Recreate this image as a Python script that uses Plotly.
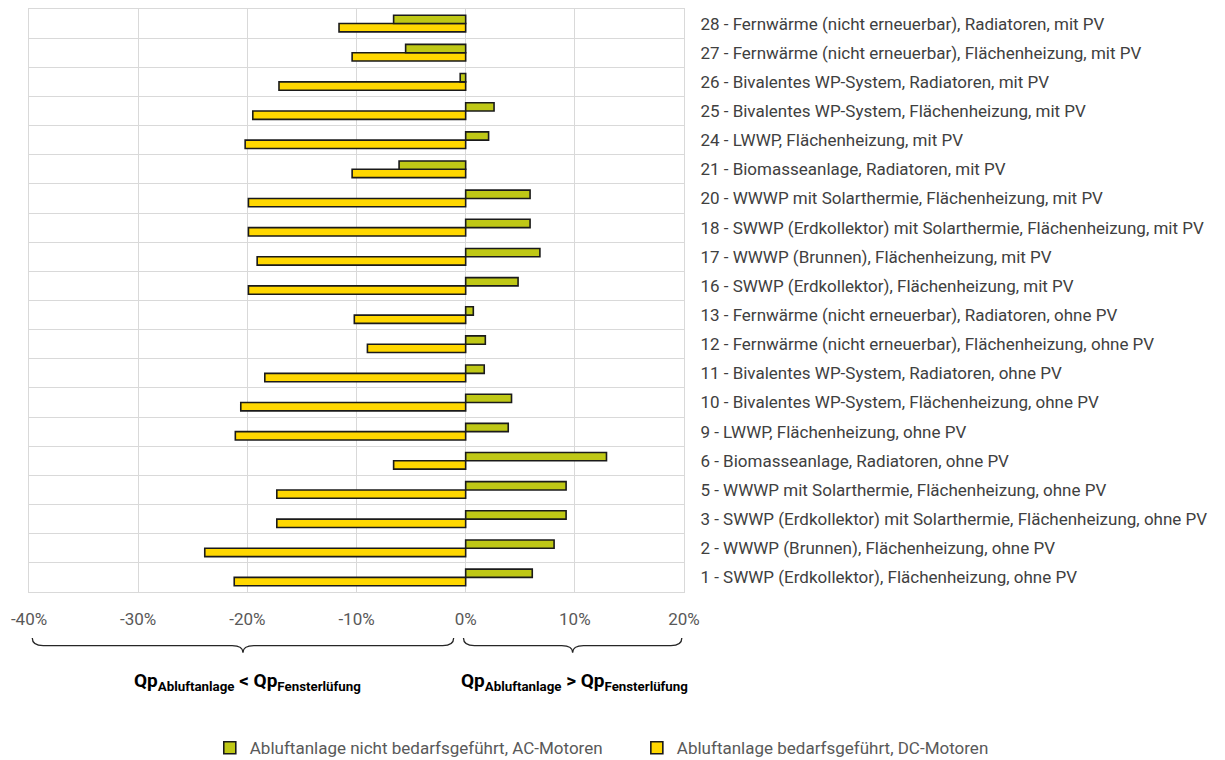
import plotly.graph_objects as go

# Categories (bottom to top)
categories = [
    "1 - SWWP (Erdkollektor), Flächenheizung, ohne PV",
    "2 - WWWP (Brunnen), Flächenheizung, ohne PV",
    "3 - SWWP (Erdkollektor) mit Solarthermie, Flächenheizung, ohne PV",
    "5 - WWWP mit Solarthermie, Flächenheizung, ohne PV",
    "6 - Biomasseanlage, Radiatoren, ohne PV",
    "9 - LWWP, Flächenheizung, ohne PV",
    "10 - Bivalentes WP-System, Flächenheizung, ohne PV",
    "11 - Bivalentes WP-System, Radiatoren, ohne PV",
    "12 - Fernwärme (nicht erneuerbar), Flächenheizung, ohne PV",
    "13 - Fernwärme (nicht erneuerbar), Radiatoren, ohne PV",
    "16 - SWWP (Erdkollektor), Flächenheizung, mit PV",
    "17 - WWWP (Brunnen), Flächenheizung, mit PV",
    "18 - SWWP (Erdkollektor) mit Solarthermie, Flächenheizung, mit PV",
    "20 - WWWP mit Solarthermie, Flächenheizung, mit PV",
    "21 - Biomasseanlage, Radiatoren, mit PV",
    "24 - LWWP, Flächenheizung, mit PV",
    "25 - Bivalentes WP-System, Flächenheizung, mit PV",
    "26 - Bivalentes WP-System, Radiatoren, mit PV",
    "27 - Fernwärme (nicht erneuerbar), Flächenheizung, mit PV",
    "28 - Fernwärme (nicht erneuerbar), Radiatoren, mit PV",
]

# Series values (fractions)
ac_nicht_bedarfsgefuehrt = [
    0.061, 0.081, 0.092, 0.092, 0.129, 0.039, 0.042, 0.017, 0.018, 0.007,
    0.048, 0.068, 0.059, 0.059, -0.061, 0.021, 0.026, -0.005, -0.055, -0.066,
]
dc_bedarfsgefuehrt = [
    -0.212, -0.239, -0.173, -0.173, -0.066, -0.211, -0.206, -0.184, -0.090, -0.102,
    -0.199, -0.191, -0.199, -0.199, -0.104, -0.202, -0.195, -0.171, -0.104, -0.116,
]

series_names = [
    "Abluftanlage nicht bedarfsgeführt, AC-Motoren",
    "Abluftanlage bedarfsgeführt, DC-Motoren",
]

x_ticks = [-0.4, -0.3, -0.2, -0.1, 0.0, 0.1, 0.2]
x_ticktext = ["-40%", "-30%", "-20%", "-10%", "0%", "10%", "20%"]

GREEN = "#BFC816"
YELLOW = "#FFD700"
OUTLINE = "#1A1A1A"
GRID = "#D9D9D9"
FONT = "Roboto"

fig = go.Figure()
fig.add_trace(go.Bar(
    y=categories, x=dc_bedarfsgefuehrt, orientation="h", name=series_names[1],
    marker=dict(color=YELLOW, line=dict(color=OUTLINE, width=1.6)),
    legend="legend2", showlegend=True,
))
fig.add_trace(go.Bar(
    y=categories, x=ac_nicht_bedarfsgefuehrt, orientation="h", name=series_names[0],
    marker=dict(color=GREEN, line=dict(color=OUTLINE, width=1.6)),
    legend="legend", showlegend=True,
))

# braces below axis (paper y, data x)
def brace(x0, x1, ytop, yline, ytip, r):
    xm = (x0 + x1) / 2
    return (f"M {x0},{ytop} Q {x0},{yline} {x0 + r},{yline} "
            f"L {xm - r},{yline} Q {xm},{yline} {xm},{ytip} "
            f"Q {xm},{yline} {xm + r},{yline} "
            f"L {x1 - r},{yline} Q {x1},{yline} {x1},{ytop}")

ytop, yline, ytip = -0.079, -0.092, -0.104
shapes = [
    dict(type="path", xref="x", yref="paper",
         path=brace(x_ticks[0] + 0.003, x_ticks[4] - 0.011, ytop, yline, ytip, 0.01),
         line=dict(color="#262626", width=1.3)),
    dict(type="path", xref="x", yref="paper",
         path=brace(x_ticks[4] - 0.002, x_ticks[6] - 0.002, ytop, yline, ytip, 0.01),
         line=dict(color="#262626", width=1.3)),
]

annotations = [
    dict(x=(x_ticks[0] + x_ticks[4]) / 2, y=-0.153, xref="x", yref="paper",
         text="<b>Qp<sub>Abluftanlage</sub> &lt; Qp<sub>Fensterlüfung</sub></b>",
         showarrow=False, yanchor="middle",
         font=dict(family=FONT, size=19, color="#000000")),
    dict(x=(x_ticks[4] + x_ticks[6]) / 2, y=-0.153, xref="x", yref="paper",
         text="<b>Qp<sub>Abluftanlage</sub> &gt; Qp<sub>Fensterlüfung</sub></b>",
         showarrow=False, yanchor="middle",
         font=dict(family=FONT, size=19, color="#000000")),
]

legend_common = dict(orientation="h", y=-0.268, yanchor="middle", xanchor="left",
                     font=dict(family=FONT, size=17, color="#595959"),
                     bgcolor="rgba(0,0,0,0)")

fig.update_layout(
    width=1225, height=760,
    margin=dict(l=29, r=541, t=9, b=168, autoexpand=False),
    paper_bgcolor="white", plot_bgcolor="white",
    barmode="group", bargap=0.43, bargroupgap=0,
    showlegend=True,
    font=dict(family=FONT, size=17, color="#404040"),
    xaxis=dict(range=[x_ticks[0], x_ticks[-1]], tickvals=x_ticks, ticktext=x_ticktext,
               showgrid=True, gridcolor=GRID, gridwidth=1, zeroline=True,
               zerolinecolor=GRID, zerolinewidth=1, showline=True, mirror=True,
               linecolor=GRID, linewidth=1, ticks="", ticklabelstandoff=12,
               tickfont=dict(family=FONT, size=17, color="#595959")),
    yaxis=dict(type="category", side="right", tickson="boundaries", showgrid=True,
               gridcolor=GRID, gridwidth=1, showline=True, mirror=True,
               linecolor=GRID, linewidth=1, ticks="",
               ticklabelstandoff=12,
               tickfont=dict(family=FONT, size=17, color="#404040")),
    legend=dict(x=0.276, **legend_common),
    legend2=dict(x=0.928, **legend_common),
    shapes=shapes, annotations=annotations,
)

fig.write_html("out.html", config={"displayModeBar": False},
               post_script="document.body.style.margin='0px';")
